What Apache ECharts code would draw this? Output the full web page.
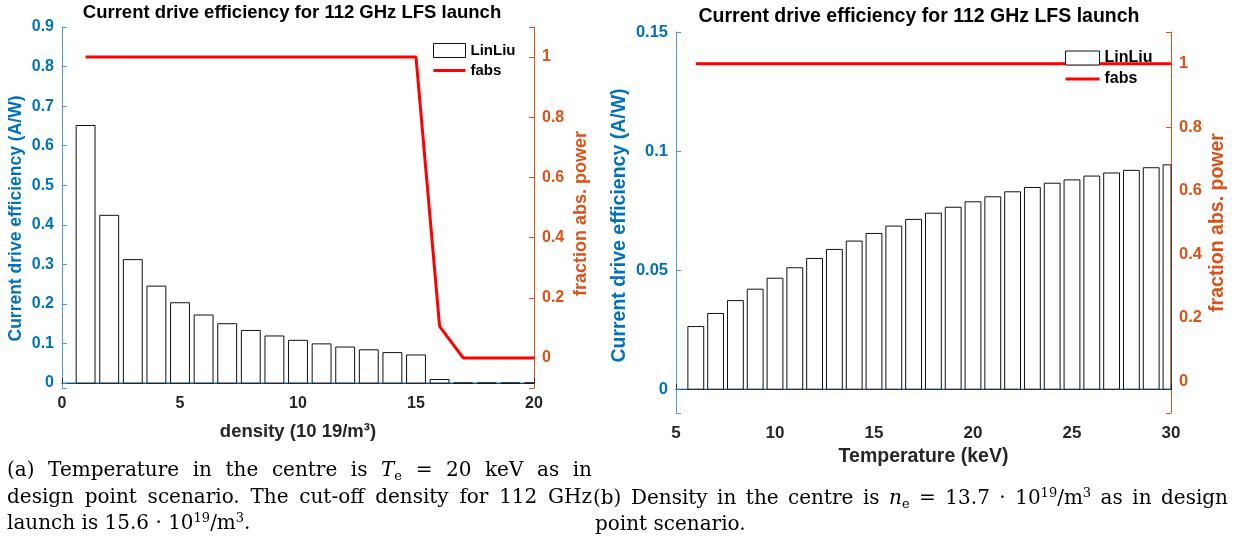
<!DOCTYPE html>
<html>
<head>
<meta charset="utf-8">
<title>Current drive efficiency</title>
<script src="https://cdn.jsdelivr.net/npm/echarts@6/dist/echarts.min.js"></script>
<style>
  html, body { margin: 0; padding: 0; background: #fff; }
  #main { width: 1240px; height: 544px; }
</style>
</head>
<body>
<div id="main"></div>
<script>
// (a) scan in density, Te = 20 keV
const densityRange = [0, 20];
const densities = [1, 2, 3, 4, 5, 6, 7, 8, 9, 10, 11, 12, 13, 14, 15, 16, 17, 18, 19, 20];
const densityEff = [0.651, 0.424, 0.312, 0.245, 0.203, 0.172, 0.150, 0.133, 0.119, 0.108,
                    0.099, 0.091, 0.084, 0.077, 0.071, 0.009, 0, 0, 0, 0];
const densityFabs = [1, 1, 1, 1, 1, 1, 1, 1, 1, 1, 1, 1, 1, 1, 1, 0.105, 0, 0, 0, 0];

// (b) scan in temperature, ne = 13.7e19
const tempRange = [5, 30];
const temperatures = [6, 7, 8, 9, 10, 11, 12, 13, 14, 15, 16, 17, 18, 19, 20,
                      21, 22, 23, 24, 25, 26, 27, 28, 29, 30];
const tempEff = [0.0263, 0.0318, 0.0372, 0.0420, 0.0466, 0.0510, 0.0549, 0.0587, 0.0622, 0.0654,
                 0.0685, 0.0713, 0.0739, 0.0764, 0.0787, 0.0808, 0.0829, 0.0847, 0.0865, 0.0879,
                 0.0895, 0.0908, 0.0919, 0.0930, 0.0942];
const tempFabs = [1, 1, 1, 1, 1, 1, 1, 1, 1, 1, 1, 1, 1, 1, 1, 1, 1, 1, 1, 1, 1, 1, 1, 1, 1];

const barFrac = 0.8;   // bar width in x units
const titleText = 'Current drive efficiency for 112 GHz LFS launch';
const legendNames = ['LinLiu', 'fabs'];

// captions, {style|text} marks italic / sub / superscript pieces
const captionA = [
  '(a) Temperature in the centre is {i|T}{sub|e} = 20 keV as in',
  'design point scenario. The cut-off density for 112 GHz',
  'launch is 15.6 · 10{sup|19}/m{sup|3}.'
];
const captionB = [
  '(b) Density in the centre is {i|n}{sub|e} = 13.7 · 10{sup|19}/m{sup|3} as in design',
  'point scenario.'
];

const BLUE = '#0072BD';
const BLUE_LINE = '#4f9bd5';
const ORANGE = '#D95319';
const DARK = '#262626';
const SANS = '"Liberation Sans", Arial, sans-serif';
const SERIF = '"DejaVu Serif", serif';

function pairs(xs, ys) {
  return xs.map((x, i) => [x, ys[i]]);
}

// only label the "round" ticks, hide the extent ends
function tickOnly(step) {
  return v => Math.abs(v / step - Math.round(v / step)) < 1e-6 ? String(+v.toFixed(4)) : '';
}

// shift = px the rotated name moves down along the axis
function yAxisOpt(grid, pos, min, max, step, color, lineColor, name, size, nameSize, gap, shift) {
  return {
    type: 'value', gridIndex: grid, position: pos, min: min, max: max,
    minInterval: step, maxInterval: step,
    name: name, nameLocation: 'middle', nameRotate: 90, nameGap: gap,
    nameTextStyle: { color: color, fontFamily: SANS, fontWeight: 'bold', fontSize: nameSize,
                     padding: [0, 2 * shift, 0, 0] },
    axisLine: { show: true, lineStyle: { color: lineColor, width: 1 } },
    axisTick: { show: true, inside: true, length: 5, lineStyle: { color: lineColor } },
    axisLabel: { color: color, fontFamily: SANS, fontWeight: 'bold', fontSize: size, margin: 8,
                 formatter: tickOnly(step) },
    splitLine: { show: false }
  };
}

function xAxisOpt(grid, range, name, size, nameSize, margin, gap) {
  return {
    type: 'value', gridIndex: grid, min: range[0], max: range[1], interval: 5,
    name: name, nameLocation: 'middle', nameGap: gap,
    nameTextStyle: { color: DARK, fontFamily: SANS, fontWeight: 'bold', fontSize: nameSize },
    axisLine: { show: true, lineStyle: { color: DARK, width: 1 } },
    axisTick: { show: true, inside: true, length: 5, lineStyle: { color: DARK } },
    axisLabel: { color: DARK, fontFamily: SANS, fontWeight: 'bold', fontSize: size, margin: margin },
    splitLine: { show: false }
  };
}

// hollow bars, clipped to the axes box like matlab does
function renderBar(params, api) {
  const x = api.value(0);
  const top = api.coord([x, api.value(1)]);
  const base = api.coord([x, 0]);
  const w = api.size([barFrac, 0])[0];
  const cs = params.coordSys;
  const rect = echarts.graphic.clipRectByRect(
    { x: top[0] - w / 2, y: top[1], width: w, height: base[1] - top[1] },
    { x: cs.x, y: cs.y, width: cs.width, height: cs.height });
  if (!rect) return null;
  return {
    type: 'rect', shape: rect,
    style: { fill: '#fff', stroke: '#111', lineWidth: 1 }
  };
}

function barSeries(xi, yi, data) {
  return {
    name: legendNames[0], type: 'custom', xAxisIndex: xi, yAxisIndex: yi,
    data: data, renderItem: renderBar, encode: { x: 0, y: 1 },
    itemStyle: { color: '#fff', borderColor: '#111', borderWidth: 1 },
    z: 2
  };
}

// blue bar baseline at y = 0 across the whole axis
function baseSeries(xi, yi, range) {
  return {
    name: 'baseline', type: 'line', xAxisIndex: xi, yAxisIndex: yi,
    data: pairs(range, [0, 0]), symbol: 'none', silent: true,
    lineStyle: { color: BLUE, width: 1 }, z: 1
  };
}

function lineSeries(xi, yi, data) {
  return {
    name: legendNames[1], type: 'line', xAxisIndex: xi, yAxisIndex: yi,
    data: data, symbol: 'none', showSymbol: false,
    lineStyle: { color: '#ff0000', width: 3 }, itemStyle: { color: '#ff0000' },
    z: 3
  };
}

function legendOpt(left, top, size, iconW) {
  return {
    left: left, top: top, orient: 'vertical', padding: 0, itemGap: 5,
    itemWidth: iconW, itemHeight: 14,
    data: [
      { name: legendNames[0], icon: 'rect',
        itemStyle: { color: '#fff', borderColor: '#111', borderWidth: 1 } },
      { name: legendNames[1], icon: 'path://M0,0H34V3H0Z',
        itemStyle: { color: '#ff0000', borderWidth: 0 } }
    ],
    textStyle: { color: '#000', fontFamily: SANS, fontWeight: 'bold', fontSize: size }
  };
}

// caption layout: measure words, stretch the justified lines
const measureCtx = document.createElement('canvas').getContext('2d');
const capRich = {
  i: { fontFamily: SERIF, fontSize: 20, fontStyle: 'italic', lineHeight: 24, color: '#000' },
  sup: { fontFamily: SERIF, fontSize: 13, verticalAlign: 'top', color: '#000' },
  sub: { fontFamily: SERIF, fontSize: 13, verticalAlign: 'bottom', color: '#000' }
};

function wordWidth(word) {
  let w = 0;
  const re = /\{(\w+)\|([^}]*)\}|([^{]+)/g;
  let m;
  while ((m = re.exec(word))) {
    const st = m[1] ? capRich[m[1]] : { fontSize: 20 };
    measureCtx.font = (st.fontStyle === 'italic' ? 'italic ' : '') + st.fontSize + 'px ' + SERIF;
    w += measureCtx.measureText(m[1] ? m[2] : m[3]).width;
  }
  return w;
}

function captionLine(str, x, top, justifyTo) {
  const words = str.split(' ');
  const widths = words.map(wordWidth);
  measureCtx.font = '20px ' + SERIF;
  let gap = measureCtx.measureText(' ').width;
  if (justifyTo) {
    const total = widths.reduce((a, b) => a + b, 0);
    gap = (justifyTo - x - total) / (words.length - 1);
  }
  const out = [];
  let cx = x;
  words.forEach((w, k) => {
    out.push({
      type: 'text', x: cx, y: top, silent: true,
      style: {
        text: w, rich: capRich, fill: '#000',
        font: '20px ' + SERIF, lineHeight: 24,
        align: 'left', verticalAlign: 'top'
      }
    });
    cx += widths[k] + gap;
  });
  return out;
}

const graphics = [].concat(
  captionLine(captionA[0], 7, 459, 592),
  captionLine(captionA[1], 7, 486, 592),
  captionLine(captionA[2], 7, 512, null),
  captionLine(captionB[0], 593, 487, 1228),
  captionLine(captionB[1], 595, 513, null)
);

const chart = echarts.init(document.getElementById('main'));
chart.setOption({
  backgroundColor: '#fff',
  animation: false,
  title: [
    { text: titleText, left: 292, top: 3, textAlign: 'center', padding: 0,
      textStyle: { color: '#000', fontFamily: SANS, fontWeight: 'bold', fontSize: 18.5 } },
    { text: titleText, left: 919, top: 7, textAlign: 'center', padding: 0,
      textStyle: { color: '#000', fontFamily: SANS, fontWeight: 'bold', fontSize: 19.5 } }
  ],
  legend: [legendOpt(433, 43, 15, 32), legendOpt(1065, 50, 16, 34)],
  grid: [
    { left: 62, top: 27, width: 472, height: 361, containLabel: false },
    { left: 676, top: 32, width: 495, height: 381, containLabel: false }
  ],
  xAxis: [
    xAxisOpt(0, densityRange, 'density (10 19/m³)', 16, 18.5, 8, 34),
    xAxisOpt(1, tempRange, 'Temperature (keV)', 17, 19.5, 12, 32)
  ],
  yAxis: [
    yAxisOpt(0, 'left', -0.0125, 0.9, 0.1, BLUE, BLUE_LINE, 'Current drive efficiency (A/W)', 16, 17.5, 37, 11),
    yAxisOpt(0, 'right', -0.1, 1.1, 0.2, ORANGE, ORANGE, 'fraction abs. power', 16, 18, 38, 6),
    yAxisOpt(1, 'left', -0.01, 0.15, 0.05, BLUE, BLUE_LINE, 'Current drive efficiency (A/W)', 16.5, 19.5, 46, 3),
    yAxisOpt(1, 'right', -0.1, 1.1, 0.2, ORANGE, ORANGE, 'fraction abs. power', 16.5, 19.5, 37, 0)
  ],
  series: [
    baseSeries(0, 0, densityRange),
    barSeries(0, 0, pairs(densities, densityEff)),
    lineSeries(0, 1, pairs(densities, densityFabs)),
    baseSeries(1, 2, tempRange),
    barSeries(1, 2, pairs(temperatures, tempEff)),
    lineSeries(1, 3, pairs(temperatures, tempFabs))
  ],
  graphic: graphics
});
</script>
</body>
</html>
